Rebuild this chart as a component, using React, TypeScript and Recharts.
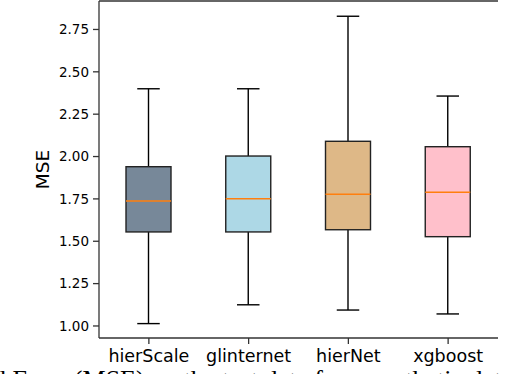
import { ComposedChart, Bar, XAxis, YAxis, ReferenceLine } from 'recharts'

const categories = ['hierScale', 'glinternet', 'hierNet', 'xgboost']
const mins = [1.014, 1.125, 1.094, 1.071]
const q1s = [1.555, 1.555, 1.568, 1.527]
const medians = [1.738, 1.751, 1.777, 1.789]
const q3s = [1.94, 2.003, 2.09, 2.058]
const maxs = [2.4, 2.4, 2.828, 2.357]
const boxColors = ['#778899', '#add8e6', '#deb887', '#ffc0cb']
const yTicks = [1.0, 1.25, 1.5, 1.75, 2.0, 2.25, 2.5, 2.75]
const yMin = 0.929
const yMax = 2.918

// range bar spans whisker-to-whisker; the shape maps the other stats into that span
const chartData = categories.map((name, i) => ({
    name,
    range: [mins[i], maxs[i]],
    min: mins[i],
    q1: q1s[i],
    median: medians[i],
    q3: q3s[i],
    max: maxs[i],
    color: boxColors[i],
}))

const BoxShape = (props: any) => {
    const { x, y, width, height, payload } = props
    const { min, q1, median, q3, max, color } = payload
    const py = (v: number) => y + ((max - v) / (max - min)) * height
    const cx = x + width / 2
    const capHalf = width / 4
    return (
        <g>
            <line x1={cx} x2={cx} y1={py(max)} y2={py(q3)} stroke="#000" strokeWidth={1.4} />
            <line x1={cx} x2={cx} y1={py(q1)} y2={py(min)} stroke="#000" strokeWidth={1.4} />
            <line x1={cx - capHalf} x2={cx + capHalf} y1={py(max)} y2={py(max)} stroke="#000" strokeWidth={1.4} />
            <line x1={cx - capHalf} x2={cx + capHalf} y1={py(min)} y2={py(min)} stroke="#000" strokeWidth={1.4} />
            <rect x={x} y={py(q3)} width={width} height={py(q1) - py(q3)} fill={color} stroke="#222" strokeWidth={1.4} />
            <line x1={x} x2={x + width} y1={py(median)} y2={py(median)} stroke="#ff7f0e" strokeWidth={1.6} />
        </g>
    )
}

export default function App() {
    return (
        <div style={{ position: 'absolute', left: 0, top: 0, width: 514, height: 374, overflow: 'hidden', background: '#fff' }}>
            <ComposedChart
                width={514}
                height={374}
                data={chartData}
                margin={{ top: 1, right: 16, bottom: 0, left: 0 }}
                style={{ fontFamily: 'DejaVu Sans' }}
            >
                <XAxis
                    dataKey="name"
                    height={36}
                    tickSize={6}
                    tickMargin={6}
                    stroke="#333"
                    strokeWidth={1.3}
                    tick={{ fill: '#000', fontSize: 17.5 }}
                />
                <YAxis
                    type="number"
                    domain={[yMin, yMax]}
                    ticks={yTicks}
                    tickFormatter={(v: number) => v.toFixed(2)}
                    width={99}
                    tickSize={6}
                    tickMargin={4}
                    stroke="#333"
                    strokeWidth={1.3}
                    allowDataOverflow
                    tick={{ fill: '#000', fontSize: 13.5 }}
                    label={{ value: 'MSE', angle: -90, position: 'insideLeft', offset: 42, style: { fill: '#000', fontSize: 18.5, textAnchor: 'middle' } }}
                />
                <YAxis yAxisId="right" orientation="right" width={0} tick={false} tickLine={false} stroke="#333" strokeWidth={1.3} />
                <ReferenceLine y={yMax} stroke="#333" strokeWidth={1.3} />
                <Bar dataKey="range" barSize={45} shape={BoxShape} isAnimationActive={false} />
            </ComposedChart>
            <div
                style={{
                    position: 'absolute',
                    left: -7,
                    top: 367,
                    whiteSpace: 'nowrap',
                    fontFamily: 'Liberation Serif',
                    fontSize: 26,
                    lineHeight: '26px',
                    color: '#000',
                }}
            >
                d Error (MSE) on the test data for a synthetic data
            </div>
        </div>
    )
}
